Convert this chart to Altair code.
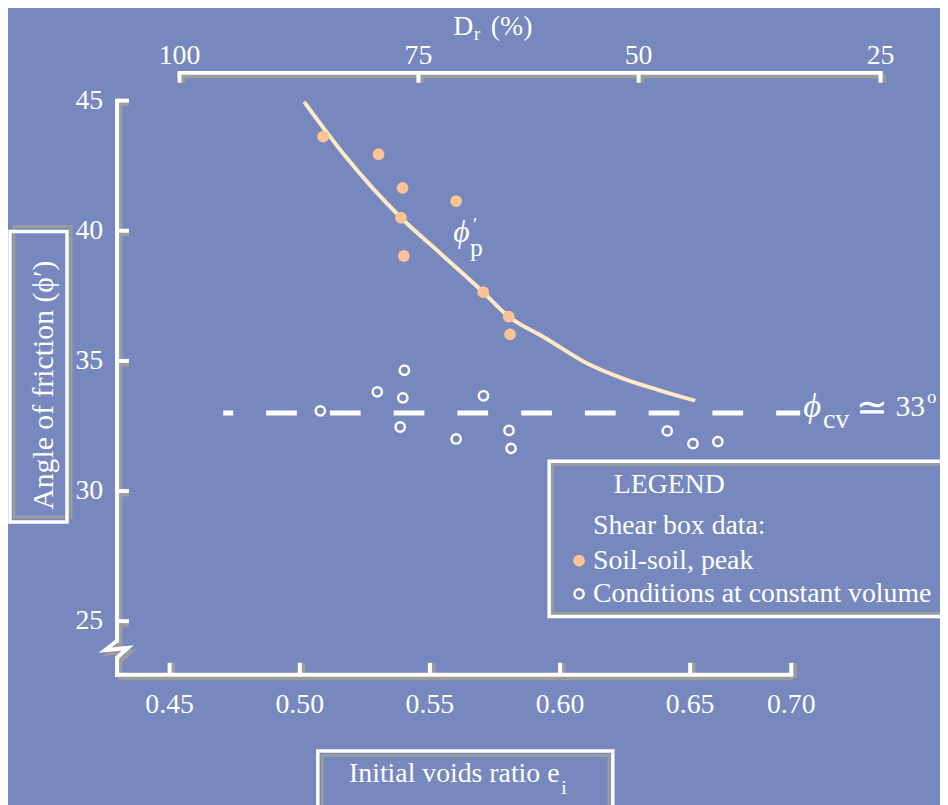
import altair as alt
import pandas as pd

# ---------------- values ----------------
series = ["Soil-soil, peak", "Conditions at constant volume"]

peak_e = [0.5090, 0.5303, 0.5395, 0.5601, 0.5389, 0.5400, 0.5705, 0.5803, 0.5808]
peak_phi = [43.62, 42.94, 41.65, 41.14, 40.50, 39.03, 37.64, 36.70, 36.02]

cv_e = [0.5079, 0.5298, 0.5402, 0.5396, 0.5386, 0.5601, 0.5706, 0.5804, 0.5812,
        0.6412, 0.6514, 0.6637]
cv_phi = [33.08, 33.81, 34.64, 33.58, 32.46, 32.00, 33.66, 32.33, 31.64,
          32.31, 31.82, 31.90]

curve_e = [0.5017, 0.5169, 0.5389, 0.5544, 0.5705, 0.5803, 0.5940, 0.6107,
           0.6243, 0.6379, 0.6525]
curve_phi = [44.95, 42.94, 40.50, 39.10, 37.64, 36.70, 35.90, 34.89,
             34.32, 33.88, 33.47]

phi_cv = 33
phi_cv_e_span = [0.4706, 0.7044]

x_ticks = [0.45, 0.50, 0.55, 0.60, 0.65, 0.70]
y_ticks = [25, 30, 35, 40, 45]
dr_ticks = [100, 75, 50, 25]

# ---------------- layout & style ----------------
FONT = "Liberation Serif"
BG = "#7688BE"
WHITE = "#FFFFFF"
GREY = "#9C9C9C"
PEACH = "#FDC395"
CREAM = "#FFE9C6"

W, H = 680, 579
X_DOMAIN = [0.42981, 0.65, 0.70]
X_RANGE = [0, 578, 680]
Y_DOMAIN = [22.943, 45]
DR_RANGE = [63, 304, 526, 770]
TOP_AXIS_Y = -28
TICK = 12
SH = 3.5  # shadow offset
AXIS_W = 4
AXIS_BREAK_TOP = 24.25
BREAK_SHAPE_PX = [(0, 0), (-12, 9.6), (11, 7.3), (0, 17.3)]
TICK_FONT = 28

PX_PER_E = (X_RANGE[1] - X_RANGE[0]) / (X_DOMAIN[1] - X_DOMAIN[0])
PX_PER_DEG = H / (Y_DOMAIN[1] - Y_DOMAIN[0])

XS = alt.Scale(domain=X_DOMAIN, range=X_RANGE, nice=False, zero=False)
YS = alt.Scale(domain=Y_DOMAIN, nice=False, zero=False)
DRS = alt.Scale(domain=dr_ticks, range=DR_RANGE, nice=False, zero=False)


def X(f):
    return alt.X(f, type="quantitative", scale=XS, axis=None)


def Y(f):
    return alt.Y(f, type="quantitative", scale=YS, axis=None)


def DX(f):
    return alt.X(f, type="quantitative", scale=DRS, axis=None)


one = pd.DataFrame({"k": [0]})

# ---------------- data frames ----------------
pts = pd.concat([
    pd.DataFrame({"e": peak_e, "phi": peak_phi, "series": series[0]}),
    pd.DataFrame({"e": cv_e, "phi": cv_phi, "series": series[1]}),
], ignore_index=True)
curve = pd.DataFrame({"e": curve_e, "phi": curve_phi})
cvline = pd.DataFrame({"x0": [phi_cv_e_span[0]], "x1": [phi_cv_e_span[1]], "phi": [phi_cv]})

break_bottom = AXIS_BREAK_TOP - BREAK_SHAPE_PX[-1][1] / PX_PER_DEG
yaxis_df = pd.DataFrame({
    "e": [X_DOMAIN[0], X_DOMAIN[0]],
    "y0": [Y_DOMAIN[0], AXIS_BREAK_TOP],
    "y1": [break_bottom, Y_DOMAIN[1]],
})
xaxis_df = pd.DataFrame({"x0": [X_DOMAIN[0]], "x1": [X_DOMAIN[-1]]})
xt_df = pd.DataFrame({"v": x_ticks})
yt_df = pd.DataFrame({"v": y_ticks})
dr_df = pd.DataFrame({"dr": dr_ticks})
break_df = pd.DataFrame({
    "i": list(range(len(BREAK_SHAPE_PX))),
    "e": [X_DOMAIN[0] + dx / PX_PER_E for dx, dy in BREAK_SHAPE_PX],
    "phi": [AXIS_BREAK_TOP - dy / PX_PER_DEG for dx, dy in BREAK_SHAPE_PX],
})


def axis_lines(color, off):
    kw = dict(color=color, strokeWidth=AXIS_W, xOffset=off, yOffset=off)
    yl = alt.Chart(yaxis_df).mark_rule(strokeCap="square", **kw).encode(
        x=X("e"), y=Y("y0"), y2="y1")
    yt = alt.Chart(yt_df).mark_rule(**kw).encode(
        x=alt.value(0), x2=alt.value(TICK), y=Y("v"))
    xl = alt.Chart(xaxis_df).mark_rule(strokeCap="square", **kw).encode(
        x=X("x0"), x2="x1", y=alt.value(H))
    xt = alt.Chart(xt_df).mark_rule(**kw).encode(
        x=X("v"), y=alt.value(H), y2=alt.value(H - TICK))
    br = alt.Chart(break_df).mark_line(strokeJoin="miter", **kw).encode(
        x=X("e"), y=Y("phi"), order="i:O")
    return [yl, yt, xl, xt, br]


def dr_lines(color, off):
    kw = dict(color=color, strokeWidth=AXIS_W, xOffset=off, yOffset=off)
    line = alt.Chart(dr_df).mark_rule(strokeCap="square", **kw).encode(
        x=DX("min(dr)"), x2="max(dr):Q", y=alt.value(TOP_AXIS_Y))
    ticks = alt.Chart(dr_df).mark_rule(**kw).encode(
        x=DX("dr"), y=alt.value(TOP_AXIS_Y), y2=alt.value(TOP_AXIS_Y + 10))
    return [line, ticks]


def txt(text, x, y, size, align="left", style="normal", angle=0, baseline="alphabetic"):
    return alt.Chart(one).mark_text(
        text=text, font=FONT, fontSize=size, color=WHITE, align=align,
        baseline=baseline, fontStyle=style, angle=angle,
    ).encode(x=alt.value(x), y=alt.value(y))


def box(x0, x1, y0, y1, color, width):
    return alt.Chart(one).mark_rect(
        fillOpacity=0, stroke=color, strokeWidth=width
    ).encode(x=alt.value(x0), x2=alt.value(x1), y=alt.value(y0), y2=alt.value(y1))


tick_style = dict(font=FONT, fontSize=TICK_FONT, color=WHITE)
x_labels = alt.Chart(xt_df).mark_text(align="center", baseline="top", **tick_style).encode(
    x=X("v"), y=alt.value(H + 17), text=alt.Text("v:Q", format=".2f"))
y_labels = alt.Chart(yt_df).mark_text(align="right", baseline="middle", **tick_style).encode(
    x=alt.value(-14), y=Y("v"), text=alt.Text("v:Q", format="d"))
dr_labels = alt.Chart(dr_df).mark_text(align="center", baseline="bottom", **tick_style).encode(
    x=DX("dr"), y=alt.value(TOP_AXIS_Y - 3), text=alt.Text("dr:Q", format="d"))

ZW = "\u200b"
NB = "\u00a0"
legend = alt.Legend(
    title=[ZW + NB * 7 + "LEGEND", ZW + NB * 4 + "Shear box data:"],
    orient="none", legendX=452, legendY=374, padding=0,
    titleFont=FONT, titleFontSize=28, titleFontWeight="normal", titleColor=WHITE,
    titleLineHeight=41, titlePadding=7, titleLimit=500, titleAnchor="start",
    labelFont=FONT, labelFontSize=28, labelColor=WHITE, labelLimit=500,
    labelOffset=0, symbolType="circle", symbolSize=88, symbolStrokeWidth=2.5,
    rowPadding=5.5, direction="vertical",
)

points = alt.Chart(pts).mark_point(
    shape="circle", filled=True, size=88, strokeWidth=2.5, opacity=1
).encode(
    x=X("e"),
    y=Y("phi"),
    fill=alt.Fill("series:N", scale=alt.Scale(domain=series, range=[PEACH, BG]), legend=legend),
    stroke=alt.Stroke("series:N", scale=alt.Scale(domain=series, range=[PEACH, WHITE]), legend=legend),
)

dash = alt.Chart(cvline).mark_rule(
    color=WHITE, strokeWidth=5, strokeDash=[31, 33.3], strokeDashOffset=21
).encode(x=X("x0"), x2="x1", y=Y("phi"))

peak_curve = alt.Chart(curve).mark_line(
    color=CREAM, strokeWidth=4, interpolate="monotone"
).encode(x=X("e"), y=Y("phi"))

annotations = [
    # boxes
    box(-104, -46.5, 127, 420, GREY, 3),
    box(-108, -50.5, 132, 425, WHITE, 3.5),
    box(207, 496, 660.5, 720, GREY, 3),
    box(202.5, 500, 656, 720, WHITE, 3.5),
    box(439, 850, 366.8, 517.3, GREY, 3),
    box(435.8, 850, 363.7, 520.3, WHITE, 3.5),
    # axis titles
    txt("Angle of friction (\u03d5\u2032)", -65, 287, 30, align="center", angle=270),
    txt("Initial voids ratio e", 234, 687, 28),
    txt("i", 448, 699, 20),
    txt("D", 339, -66.3, 28),
    txt("r", 360, -61, 19),
    txt("(%)", 377, -66.3, 28),
    # curve labels
    txt("\u03d5", 339, 143, 32, style="italic"),
    txt("\u2032", 359, 131, 20),
    txt("p", 356, 157, 26),
    txt("\u03d5", 692, 319, 35, style="italic"),
    txt("cv", 712, 330, 28),
    txt("\u2243", 745, 322, 38),
    txt("33", 785, 318, 30),
    txt("o", 817, 305, 19),
]

e_layers = alt.layer(
    *axis_lines(GREY, SH),
    *axis_lines(WHITE, 0),
    x_labels,
    y_labels,
    dash,
    peak_curve,
    points,
    *annotations,
)

dr_layers = alt.layer(
    *dr_lines(GREY, SH),
    *dr_lines(WHITE, 0),
    dr_labels,
)

chart = alt.layer(e_layers, dr_layers).resolve_scale(x="independent").properties(
    width=W, height=H,
    padding={"left": 110, "top": 90, "right": 150, "bottom": 128},
    autosize=alt.AutoSizeParams(type="none"),
    background=BG,
).configure_view(stroke=None)

chart.save("out.html", embed_options={"renderer": "svg", "actions": False})
